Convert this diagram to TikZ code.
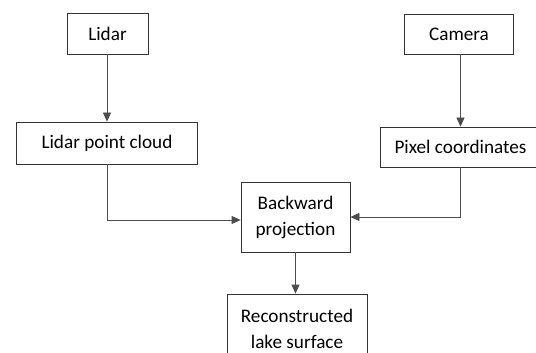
\documentclass[tikz,border=0pt]{standalone}
\usepackage{fontspec}
\setmainfont{Carlito}
\usetikzlibrary{arrows.meta}
\usetikzlibrary{positioning}

\begin{document}
\begin{tikzpicture}[x=1pt, y=-1pt, >={Triangle[length=9pt,width=8pt]}]
    \tikzset{
        stepbox/.style={draw=black!80, line width=0.8pt, align=center,
            inner sep=0pt, font=\fontsize{19.2}{26}\selectfont},
        flow/.style={->, draw=black!70, line width=0.8pt}
    }

    \clip (0,0) rectangle (536,353);
    \useasboundingbox (0,0) rectangle (536,353);

    \node [stepbox, minimum width=81, minimum height=41] (lidar) at (107.5, 33.5) {Lidar};
    \node [stepbox, minimum width=181, minimum height=42] (cloud) at (107, 143) {Lidar point cloud};
    \node [stepbox, minimum width=109, minimum height=40] (camera) at (459, 34) {Camera};
    \node [stepbox, minimum width=161, minimum height=40] (pixel) at (460.5, 147) {Pixel coordinates};
    \node [stepbox, minimum width=109, minimum height=70] (backproj) at (295.5, 217) {Backward\\projection};
    \node [stepbox, minimum width=140, minimum height=70] (lake) at (297, 329) {Reconstructed\\lake surface};

    \draw [flow] (lidar.south -| cloud.north) -- (cloud.north);
    \draw [flow] (camera.south -| pixel.north) -- (pixel.north);
    \draw [flow] (cloud.south) |- ([yshift=-3pt]backproj.west);
    \draw [flow] (pixel.south) |- (backproj.east);
    \draw [flow] (backproj.south) -- (backproj.south |- lake.north);

\end{tikzpicture}
\end{document}
